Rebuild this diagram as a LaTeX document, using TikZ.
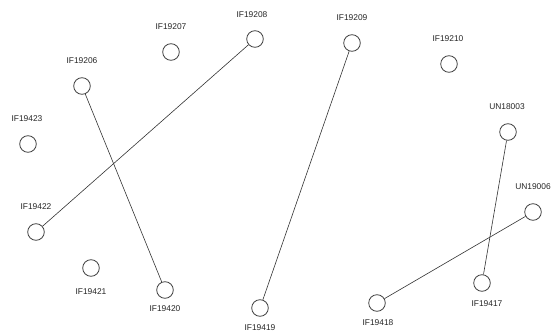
\documentclass[tikz,border=0pt]{standalone}
\usepackage{fontspec}
\setmainfont{Liberation Sans}
\begin{document}
\begin{tikzpicture}[x=1pt,y=-1pt,
  vert/.style={circle,draw=black!75,line width=0.8pt,minimum size=16.6pt,inner sep=0pt},
  tag/.style={font=\fontsize{8.4}{9}\selectfont,text=black!85,inner sep=0pt},
  link/.style={draw=black!80,line width=0.6pt}]
\useasboundingbox (0,0) rectangle (553,334);
% vertices
\node[vert] (n208) at (255,39) {};
\node[vert] (n207) at (171,52) {};
\node[vert] (n206) at (82,86) {};
\node[vert] (n423) at (28,144) {};
\node[vert] (n209) at (352,43) {};
\node[vert] (n210) at (449,64) {};
\node[vert] (u003) at (508,132) {};
\node[vert] (n422) at (36,232) {};
\node[vert] (n421) at (91,268) {};
\node[vert] (n420) at (165,290) {};
\node[vert] (n419) at (260,308) {};
\node[vert] (u006) at (533,212) {};
\node[vert] (n417) at (482,283) {};
\node[vert] (n418) at (377,303) {};
% labels
\node[tag] (t208) at (252,15) {IF19208};
\node[tag] (t207) at (171,27) {IF19207};
\node[tag] (t206) at (82,61) {IF19206};
\node[tag] (t423) at (27,119) {IF19423};
\node[tag] (t209) at (352,18) {IF19209};
\node[tag] (t210) at (448,39) {IF19210};
\node[tag] (tu003) at (507,107) {UN18003};
\node[tag] (t422) at (36,207) {IF19422};
\node[tag] (t421) at (91,292) {IF19421};
\node[tag] (t420) at (165,309) {IF19420};
\node[tag] (t419) at (260,328) {IF19419};
\node[tag] (tu006) at (533,187) {UN19006};
\node[tag] (t417) at (487,304) {IF19417};
\node[tag] (t418) at (378,323) {IF19418};
% edges
\draw[link] (n208) -- (n422);
\draw[link] (n206) -- (n420);
\draw[link] (n209) -- (n419);
\draw[link] (u003) -- (n417);
\draw[link] (u006) -- (n418);
\end{tikzpicture}
\end{document}
